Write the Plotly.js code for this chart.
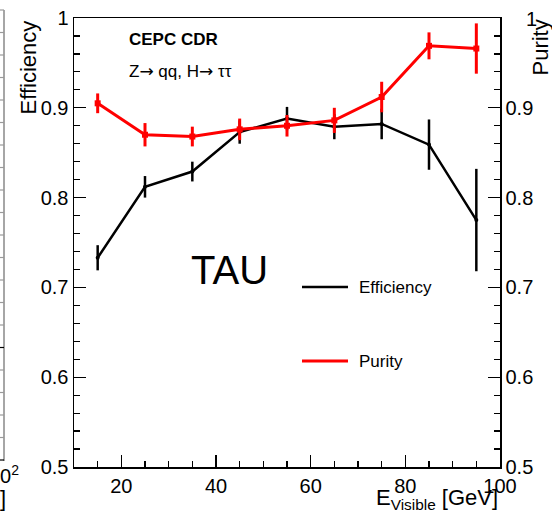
<!DOCTYPE html>
<html>
<head>
<meta charset="utf-8">
<script src="https://cdn.plot.ly/plotly-3.0.1.min.js"></script>
<style>html,body{margin:0;padding:0;background:#fff;} #chart{width:552px;height:518px;}</style>
</head>
<body>
<div id="chart"></div>
<script>
// ---- data ----
const energy = [15, 25, 35, 45, 55, 65, 75, 85, 95];
const efficiency = [0.733, 0.812, 0.829, 0.873, 0.888, 0.879, 0.882, 0.859, 0.775];
const efficiencyErr = [0.014, 0.012, 0.011, 0.013, 0.013, 0.014, 0.017, 0.028, 0.057];
const purity = [0.905, 0.870, 0.868, 0.876, 0.880, 0.886, 0.912, 0.969, 0.966];
const purityErr = [0.011, 0.013, 0.011, 0.012, 0.012, 0.014, 0.017, 0.015, 0.028];
const yTicks = [0.5, 0.6, 0.7, 0.8, 0.9, 1];
const yTickLabels = ['0.5', '0.6', '0.7', '0.8', '0.9', '1'];
const yTickLabelsRight = ['0.5', '0.6', '0.7', '0.8', '0.9', ''];
const xTicks = [20, 40, 60, 80, 100];

const FONT = 'Liberation Sans, Arial, Helvetica, sans-serif';

const traces = [
  {
    x: energy, y: efficiency, type: 'scatter', mode: 'lines+markers', name: 'Efficiency',
    line: {color: '#000000', width: 2.5},
    marker: {color: '#000000', size: 4, symbol: 'circle'},
    error_y: {type: 'data', array: efficiencyErr, visible: true, color: '#000000', thickness: 2.5, width: 0},
    showlegend: false, hoverinfo: 'skip'
  },
  {
    x: energy, y: purity, type: 'scatter', mode: 'lines+markers', name: 'Purity',
    line: {color: '#ff0000', width: 3},
    marker: {color: '#ff0000', size: 6, symbol: 'square'},
    error_y: {type: 'data', array: purityErr, visible: true, color: '#ff0000', thickness: 3, width: 0},
    showlegend: false, hoverinfo: 'skip'
  },
  {
    x: [null], y: [null], yaxis: 'y2', type: 'scatter', mode: 'lines', showlegend: false, hoverinfo: 'skip'
  }
];

// decoration: edge of the neighbouring panel on the left
const shapes = [];
const px2x = p => (p - 74) / 426;
const px2y = p => 1 - (p - 18) / 449;
shapes.push({type: 'line', xref: 'paper', yref: 'paper', x0: px2x(4), x1: px2x(4), y0: px2y(10), y1: px2y(461), line: {color: '#888888', width: 1.5}});
for (let k = 0; k <= 20; k++) {
  const py = 10 + k * 22.5;
  const major = (k === 15 || k === 20);
  shapes.push({type: 'line', xref: 'paper', yref: 'paper', x0: px2x(major ? -4 : 0), x1: px2x(4), y0: px2y(py), y1: px2y(py), line: {color: major ? '#000000' : '#999999', width: 1.2}});
}
// legend (ROOT style, drawn by hand)
shapes.push({type: 'line', xref: 'paper', yref: 'paper', x0: px2x(302), x1: px2x(348), y0: px2y(287), y1: px2y(287), line: {color: '#000000', width: 2.5}});
shapes.push({type: 'line', xref: 'paper', yref: 'paper', x0: px2x(302), x1: px2x(348), y0: px2y(361), y1: px2y(361), line: {color: '#ff0000', width: 3}});

const ARROW = '<span style="font-family:DejaVu Sans">\u2192</span>';

const annotations = [
  {text: '<b>CEPC CDR</b>', xref: 'paper', yref: 'paper', x: px2x(127), y: px2y(39), xanchor: 'left', yanchor: 'middle', showarrow: false, font: {family: FONT, size: 17, color: '#000'}},
  {text: 'Z' + ARROW + ' qq, H' + ARROW + ' \u03c4\u03c4', xref: 'paper', yref: 'paper', x: px2x(127), y: px2y(71), xanchor: 'left', yanchor: 'middle', showarrow: false, font: {family: FONT, size: 17, color: '#000'}},
  {text: 'TAU', xref: 'paper', yref: 'paper', x: px2x(229), y: px2y(270), xanchor: 'center', yanchor: 'middle', showarrow: false, font: {family: FONT, size: 40, color: '#000'}},
  {text: 'Efficiency', xref: 'paper', yref: 'paper', x: px2x(357), y: px2y(287), xanchor: 'left', yanchor: 'middle', showarrow: false, font: {family: FONT, size: 17, color: '#000'}},
  {text: 'Purity', xref: 'paper', yref: 'paper', x: px2x(357), y: px2y(361), xanchor: 'left', yanchor: 'middle', showarrow: false, font: {family: FONT, size: 17, color: '#000'}},
  {text: 'Efficiency', xref: 'paper', yref: 'paper', x: px2x(42), y: 1, xanchor: 'right', yanchor: 'top', textangle: -90, showarrow: false, font: {family: FONT, size: 22, color: '#000'}},
  {text: 'Purity', xref: 'paper', yref: 'paper', x: px2x(525), y: 1, xanchor: 'left', yanchor: 'top', textangle: -90, showarrow: false, font: {family: FONT, size: 22, color: '#000'}},
  {text: '1', xref: 'paper', yref: 'paper', x: px2x(524), y: px2y(19), xanchor: 'left', yanchor: 'middle', showarrow: false, font: {family: FONT, size: 20, color: '#000'}},
  {text: 'E<sub>Visible</sub> [GeV]', xref: 'paper', yref: 'paper', x: px2x(500), y: px2y(499), xanchor: 'right', yanchor: 'middle', showarrow: false, font: {family: FONT, size: 22, color: '#000'}},
  {text: '0<sup>2</sup>', xref: 'paper', yref: 'paper', x: px2x(-2), y: px2y(474), xanchor: 'left', yanchor: 'middle', showarrow: false, font: {family: FONT, size: 20, color: '#000'}},
  {text: ']', xref: 'paper', yref: 'paper', x: px2x(-2), y: px2y(498), xanchor: 'left', yanchor: 'middle', showarrow: false, font: {family: FONT, size: 22, color: '#000'}}
];

const axisCommon = {
  showgrid: false, zeroline: false, showline: true, linecolor: '#000', linewidth: 1.5,
  ticks: 'inside', ticklen: 12, tickwidth: 1.2, tickcolor: '#000',
  tickfont: {family: FONT, size: 20, color: '#000'}
};

const layout = {
  width: 552, height: 518,
  margin: {l: 74, r: 52, t: 18, b: 51, pad: 0},
  paper_bgcolor: '#fff', plot_bgcolor: '#fff',
  showlegend: false,
  font: {family: FONT, color: '#000'},
  xaxis: Object.assign({}, axisCommon, {
    range: [10, 100], tickvals: xTicks, ticktext: xTicks.map(String), mirror: true,
    minor: {dtick: 5, tick0: 0, ticks: 'inside', ticklen: 6, tickcolor: '#000', tickwidth: 1.2}
  }),
  yaxis: Object.assign({}, axisCommon, {
    range: [0.5, 1], tickvals: yTicks, ticktext: yTickLabels,
    minor: {dtick: 0.02, tick0: 0.5, ticks: 'inside', ticklen: 6, tickcolor: '#000', tickwidth: 1.2}
  }),
  yaxis2: Object.assign({}, axisCommon, {
    range: [0.5, 1], tickvals: yTicks, ticktext: yTickLabelsRight, overlaying: 'y', side: 'right',
    minor: {dtick: 0.02, tick0: 0.5, ticks: 'inside', ticklen: 6, tickcolor: '#000', tickwidth: 1.2}
  }),
  shapes: shapes,
  annotations: annotations
};

Plotly.newPlot('chart', traces, layout, {displayModeBar: false, staticPlot: true});
</script>
</body>
</html>
